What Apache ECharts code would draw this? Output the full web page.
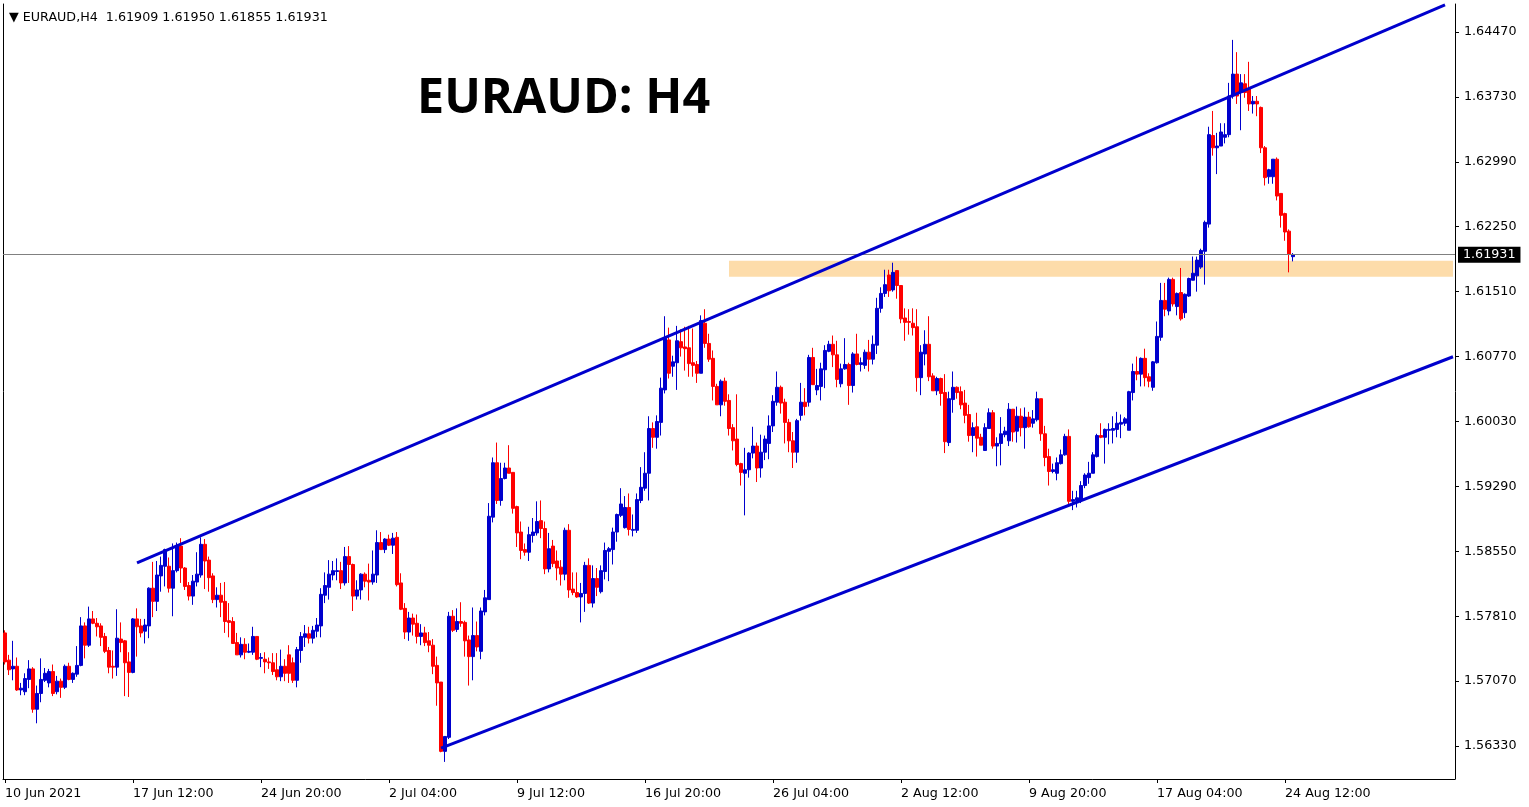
<!DOCTYPE html>
<html><head><meta charset="utf-8">
<script src="https://cdn.jsdelivr.net/npm/echarts@6/dist/echarts.min.js"></script>
<style>html,body{margin:0;padding:0;background:#fff}#c{width:1529px;height:807px}</style>
</head><body><div id="c"></div>
<script>
const symbolName = 'EURAUD';
const timeframe = 'H4';
const tickLabels = ['10 Jun 2021','17 Jun 12:00','24 Jun 20:00','2 Jul 04:00','9 Jul 12:00','16 Jul 20:00','26 Jul 04:00','2 Aug 12:00','9 Aug 20:00','17 Aug 04:00','24 Aug 12:00'];
const tickEvery = 32;
const slotCount = 363;
const priceTicks = [1.5633,1.5707,1.5781,1.5855,1.5929,1.6003,1.6077,1.6151,1.6225,1.6299,1.6373,1.6447];
const yMin = 1.55955, yMax = 1.64789;
// [open, close, low, high]
const bars = [
[1.5762,1.5729,1.5726,1.5765],[1.5731,1.5720,1.5714,1.5737],[1.5721,1.5724,1.5708,1.5753],[1.5724,1.5697,1.5696,1.5734],
[1.5697,1.5699,1.5691,1.5705],[1.5695,1.5710,1.5691,1.5716],[1.5709,1.5721,1.5699,1.5731],[1.5721,1.5675,1.5671,1.5723],
[1.5675,1.5693,1.5659,1.5702],[1.5693,1.5709,1.5683,1.5733],[1.5708,1.5716,1.5706,1.5722],[1.5705,1.5718,1.5700,1.5721],
[1.5718,1.5693,1.5690,1.5726],[1.5695,1.5707,1.5692,1.5713],[1.5707,1.5700,1.5688,1.5710],[1.5700,1.5724,1.5698,1.5726],
[1.5724,1.5709,1.5708,1.5728],[1.5709,1.5716,1.5705,1.5717],[1.5715,1.5725,1.5712,1.5747],[1.5725,1.5770,1.5724,1.5780],
[1.5770,1.5748,1.5733,1.5774],[1.5748,1.5778,1.5746,1.5792],[1.5778,1.5773,1.5772,1.5787],[1.5773,1.5769,1.5758,1.5779],
[1.5770,1.5757,1.5747,1.5773],[1.5758,1.5741,1.5739,1.5762],[1.5742,1.5723,1.5716,1.5746],[1.5724,1.5723,1.5710,1.5742],
[1.5723,1.5756,1.5713,1.5789],[1.5755,1.5751,1.5740,1.5774],[1.5753,1.5728,1.5690,1.5754],[1.5729,1.5717,1.5689,1.5740],
[1.5717,1.5778,1.5716,1.5779],[1.5778,1.5769,1.5735,1.5790],[1.5770,1.5762,1.5757,1.5778],[1.5764,1.5771,1.5750,1.5778],
[1.5770,1.5813,1.5756,1.5814],[1.5813,1.5798,1.5780,1.5843],[1.5798,1.5828,1.5787,1.5844],[1.5827,1.5839,1.5809,1.5849],
[1.5838,1.5857,1.5815,1.5858],[1.5838,1.5813,1.5808,1.5848],[1.5813,1.5833,1.5781,1.5864],[1.5833,1.5861,1.5831,1.5865],
[1.5861,1.5836,1.5819,1.5870],[1.5836,1.5815,1.5811,1.5837],[1.5816,1.5804,1.5799,1.5820],[1.5804,1.5821,1.5794,1.5828],
[1.5820,1.5829,1.5815,1.5854],[1.5828,1.5863,1.5825,1.5871],[1.5863,1.5844,1.5812,1.5869],[1.5845,1.5825,1.5809,1.5849],
[1.5827,1.5800,1.5796,1.5830],[1.5800,1.5805,1.5791,1.5814],[1.5805,1.5797,1.5780,1.5819],[1.5798,1.5775,1.5762,1.5820],
[1.5776,1.5774,1.5757,1.5796],[1.5775,1.5750,1.5750,1.5780],[1.5751,1.5737,1.5737,1.5762],[1.5737,1.5749,1.5734,1.5757],
[1.5749,1.5740,1.5732,1.5756],[1.5740,1.5741,1.5739,1.5750],[1.5740,1.5758,1.5737,1.5769],[1.5758,1.5732,1.5731,1.5758],
[1.5733,1.5734,1.5723,1.5739],[1.5732,1.5729,1.5716,1.5740],[1.5729,1.5728,1.5721,1.5734],[1.5728,1.5718,1.5714,1.5739],
[1.5720,1.5712,1.5708,1.5739],[1.5712,1.5724,1.5707,1.5743],[1.5724,1.5716,1.5707,1.5732],[1.5737,1.5716,1.5705,1.5748],
[1.5728,1.5708,1.5705,1.5734],[1.5708,1.5743,1.5700,1.5746],[1.5742,1.5758,1.5728,1.5763],[1.5757,1.5761,1.5746,1.5771],
[1.5761,1.5756,1.5750,1.5769],[1.5756,1.5765,1.5750,1.5770],[1.5764,1.5771,1.5757,1.5779],[1.5770,1.5806,1.5757,1.5813],
[1.5805,1.5816,1.5796,1.5831],[1.5814,1.5829,1.5800,1.5845],[1.5828,1.5833,1.5822,1.5844],[1.5832,1.5833,1.5822,1.5847],
[1.5833,1.5819,1.5812,1.5843],[1.5819,1.5849,1.5816,1.5860],[1.5849,1.5840,1.5819,1.5861],[1.5840,1.5804,1.5787,1.5841],
[1.5804,1.5811,1.5800,1.5822],[1.5811,1.5829,1.5800,1.5830],[1.5829,1.5821,1.5814,1.5831],[1.5822,1.5820,1.5799,1.5841],
[1.5820,1.5829,1.5817,1.5856],[1.5828,1.5865,1.5819,1.5879],[1.5865,1.5857,1.5857,1.5877],[1.5857,1.5869,1.5853,1.5870],
[1.5869,1.5862,1.5861,1.5874],[1.5862,1.5870,1.5852,1.5876],[1.5871,1.5817,1.5815,1.5877],[1.5819,1.5789,1.5788,1.5830],
[1.5790,1.5763,1.5755,1.5796],[1.5763,1.5779,1.5753,1.5786],[1.5779,1.5772,1.5759,1.5784],[1.5773,1.5758,1.5750,1.5783],
[1.5758,1.5762,1.5748,1.5772],[1.5762,1.5751,1.5747,1.5769],[1.5753,1.5748,1.5740,1.5763],[1.5748,1.5724,1.5715,1.5755],
[1.5725,1.5705,1.5679,1.5735],[1.5706,1.5627,1.5626,1.5706],[1.5627,1.5644,1.5615,1.5644],[1.5643,1.5781,1.5641,1.5786],
[1.5781,1.5765,1.5763,1.5788],[1.5766,1.5775,1.5763,1.5790],[1.5775,1.5773,1.5769,1.5797],[1.5774,1.5753,1.5735,1.5776],
[1.5754,1.5735,1.5702,1.5759],[1.5735,1.5759,1.5708,1.5791],[1.5759,1.5746,1.5741,1.5775],[1.5741,1.5787,1.5732,1.5791],
[1.5786,1.5802,1.5782,1.5811],[1.5800,1.5895,1.5800,1.5910],[1.5894,1.5956,1.5888,1.5962],[1.5956,1.5913,1.5909,1.5979],
[1.5913,1.5938,1.5907,1.5956],[1.5938,1.5950,1.5937,1.5956],[1.5950,1.5944,1.5944,1.5976],[1.5945,1.5904,1.5898,1.5945],
[1.5906,1.5876,1.5860,1.5907],[1.5877,1.5856,1.5846,1.5889],[1.5857,1.5854,1.5850,1.5864],[1.5854,1.5874,1.5844,1.5883],
[1.5873,1.5877,1.5865,1.5893],[1.5876,1.5889,1.5873,1.5912],[1.5890,1.5881,1.5870,1.5913],[1.5881,1.5835,1.5829,1.5889],
[1.5835,1.5858,1.5831,1.5876],[1.5861,1.5841,1.5837,1.5868],[1.5844,1.5836,1.5822,1.5856],[1.5837,1.5829,1.5816,1.5845],
[1.5829,1.5879,1.5822,1.5882],[1.5879,1.5811,1.5802,1.5886],[1.5812,1.5808,1.5805,1.5831],[1.5808,1.5803,1.5802,1.5831],
[1.5803,1.5807,1.5774,1.5819],[1.5807,1.5839,1.5786,1.5843],[1.5839,1.5796,1.5795,1.5847],[1.5796,1.5824,1.5791,1.5839],
[1.5824,1.5814,1.5804,1.5836],[1.5809,1.5833,1.5807,1.5839],[1.5832,1.5856,1.5823,1.5865],[1.5855,1.5858,1.5821,1.5860],
[1.5857,1.5877,1.5840,1.5882],[1.5877,1.5897,1.5866,1.5898],[1.5896,1.5909,1.5894,1.5927],[1.5882,1.5905,1.5881,1.5918],
[1.5905,1.5880,1.5873,1.5921],[1.5879,1.5880,1.5872,1.5897],[1.5879,1.5914,1.5876,1.5921],[1.5913,1.5928,1.5910,1.5951],
[1.5927,1.5944,1.5924,1.5968],[1.5944,1.5995,1.5913,1.6009],[1.5995,1.5985,1.5973,1.6002],[1.5985,1.6003,1.5972,1.6010],
[1.6002,1.6041,1.5987,1.6053],[1.6039,1.6098,1.6035,1.6123],[1.6096,1.6058,1.6052,1.6110],[1.6066,1.6071,1.6054,1.6078],
[1.6070,1.6095,1.6039,1.6112],[1.6094,1.6087,1.6077,1.6108],[1.6088,1.6086,1.6061,1.6111],[1.6087,1.6069,1.6054,1.6112],
[1.6070,1.6067,1.6054,1.6109],[1.6068,1.6058,1.6047,1.6072],[1.6058,1.6118,1.6058,1.6124],[1.6115,1.6092,1.6087,1.6131],
[1.6092,1.6074,1.6071,1.6103],[1.6075,1.6043,1.6027,1.6084],[1.6043,1.6022,1.6022,1.6046],[1.6022,1.6049,1.6009,1.6051],
[1.6049,1.6026,1.6021,1.6053],[1.6027,1.5995,1.5987,1.6034],[1.5996,1.5981,1.5970,1.6000],[1.5983,1.5954,1.5952,1.6034],
[1.5955,1.5945,1.5930,1.5956],[1.5944,1.5948,1.5896,1.5973],[1.5948,1.5967,1.5939,1.5968],[1.5967,1.5975,1.5961,1.5997],
[1.5975,1.5950,1.5934,1.5979],[1.5950,1.5968,1.5939,1.5988],[1.5968,1.5983,1.5959,1.5987],[1.5978,1.5998,1.5960,1.6010],
[1.5998,1.6026,1.5991,1.6033],[1.6025,1.6042,1.6021,1.6060],[1.6042,1.6024,1.6012,1.6044],[1.6025,1.6002,1.5978,1.6029],
[1.6002,1.5981,1.5968,1.6006],[1.5981,1.5968,1.5950,1.5991],[1.5968,1.6004,1.5956,1.6006],[1.6010,1.6025,1.6004,1.6047],
[1.6025,1.6020,1.6010,1.6041],[1.6025,1.6076,1.6020,1.6079],[1.6076,1.6045,1.6045,1.6087],[1.6039,1.6044,1.6033,1.6063],
[1.6043,1.6063,1.6027,1.6070],[1.6062,1.6084,1.6041,1.6090],[1.6083,1.6091,1.6082,1.6095],[1.6091,1.6079,1.6065,1.6101],
[1.6079,1.6051,1.6042,1.6095],[1.6046,1.6063,1.6042,1.6069],[1.6063,1.6068,1.6062,1.6098],[1.6068,1.6044,1.6022,1.6070],
[1.6044,1.6080,1.6036,1.6082],[1.6080,1.6068,1.6067,1.6103],[1.6068,1.6070,1.6060,1.6076],[1.6067,1.6082,1.6063,1.6085],
[1.6082,1.6074,1.6060,1.6096],[1.6074,1.6091,1.6068,1.6101],[1.6090,1.6132,1.6080,1.6144],[1.6132,1.6149,1.6127,1.6156],
[1.6149,1.6159,1.6145,1.6176],[1.6170,1.6152,1.6145,1.6176],[1.6153,1.6173,1.6151,1.6184],[1.6175,1.6158,1.6143,1.6175],
[1.6158,1.6120,1.6115,1.6158],[1.6121,1.6116,1.6095,1.6132],[1.6117,1.6116,1.6102,1.6131],[1.6115,1.6110,1.6101,1.6132],
[1.6111,1.6053,1.6037,1.6131],[1.6053,1.6082,1.6033,1.6090],[1.6080,1.6091,1.6067,1.6107],[1.6091,1.6054,1.6049,1.6123],
[1.6055,1.6038,1.6038,1.6058],[1.6038,1.6052,1.6033,1.6054],[1.6052,1.6035,1.6021,1.6053],[1.6036,1.5980,1.5967,1.6057],
[1.5979,1.6029,1.5975,1.6037],[1.6028,1.6042,1.6013,1.6060],[1.6042,1.6036,1.6029,1.6043],[1.6037,1.6022,1.6017,1.6043],
[1.6024,1.6010,1.6001,1.6039],[1.6011,1.5987,1.5980,1.6022],[1.5987,1.5996,1.5968,1.6002],[1.5997,1.5984,1.5963,1.6013],
[1.5985,1.5976,1.5976,1.5989],[1.5970,1.5996,1.5970,1.6001],[1.5995,1.6013,1.5995,1.6018],[1.6013,1.5975,1.5972,1.6016],
[1.5975,1.5978,1.5952,1.5985],[1.5978,1.5989,1.5953,1.6008],[1.5988,1.5992,1.5985,1.5997],[1.5981,1.6017,1.5975,1.6024],
[1.6017,1.5991,1.5980,1.6017],[1.5992,1.6009,1.5979,1.6020],[1.6009,1.5996,1.5986,1.6018],[1.5996,1.6008,1.5972,1.6019],
[1.6008,1.5997,1.5996,1.6014],[1.6001,1.6006,1.5996,1.6016],[1.6005,1.6029,1.6003,1.6037],[1.6029,1.5989,1.5981,1.6029],
[1.5989,1.5962,1.5952,1.5998],[1.5963,1.5946,1.5930,1.5972],[1.5946,1.5948,1.5944,1.5955],[1.5944,1.5956,1.5936,1.5962],
[1.5955,1.5965,1.5954,1.5971],[1.5965,1.5986,1.5964,1.5989],[1.5986,1.5912,1.5907,1.5994],[1.5912,1.5914,1.5902,1.5924],
[1.5913,1.5916,1.5905,1.5924],[1.5913,1.5930,1.5910,1.5935],[1.5930,1.5942,1.5927,1.5944],[1.5939,1.5944,1.5932,1.5957],
[1.5944,1.5965,1.5944,1.5968],[1.5963,1.5987,1.5962,1.5989],[1.5987,1.5985,1.5984,1.6001],[1.5985,1.5994,1.5955,1.5995],
[1.5993,1.5994,1.5977,1.6001],[1.5993,1.5995,1.5978,1.6009],[1.5994,1.6001,1.5985,1.6014],[1.6000,1.6002,1.5984,1.6011],
[1.6001,1.6006,1.5998,1.6008],[1.5993,1.6037,1.5993,1.6038],[1.6036,1.6060,1.6027,1.6069],[1.6060,1.6057,1.6050,1.6077],
[1.6057,1.6075,1.6043,1.6076],[1.6075,1.6053,1.6043,1.6086],[1.6054,1.6049,1.6042,1.6058],[1.6042,1.6071,1.6038,1.6072],
[1.6070,1.6100,1.6069,1.6117],[1.6099,1.6141,1.6095,1.6161],[1.6141,1.6131,1.6123,1.6161],[1.6129,1.6165,1.6124,1.6167],
[1.6165,1.6137,1.6134,1.6167],[1.6134,1.6149,1.6124,1.6150],[1.6150,1.6120,1.6118,1.6178],[1.6127,1.6148,1.6121,1.6149],
[1.6146,1.6166,1.6145,1.6167],[1.6164,1.6172,1.6164,1.6191],[1.6169,1.6187,1.6151,1.6191],[1.6179,1.6198,1.6177,1.6200],
[1.6197,1.6230,1.6159,1.6232],[1.6228,1.6330,1.6224,1.6339],[1.6329,1.6315,1.6306,1.6357],[1.6315,1.6317,1.6285,1.6332],
[1.6317,1.6333,1.6317,1.6343],[1.6327,1.6330,1.6320,1.6343],[1.6330,1.6374,1.6327,1.6389],[1.6374,1.6399,1.6371,1.6438],
[1.6399,1.6374,1.6365,1.6424],[1.6378,1.6389,1.6335,1.6399],[1.6388,1.6378,1.6372,1.6399],[1.6382,1.6365,1.6357,1.6413],
[1.6365,1.6368,1.6354,1.6374],[1.6368,1.6365,1.6351,1.6374],[1.6361,1.6315,1.6309,1.6362],[1.6315,1.6281,1.6272,1.6317],
[1.6282,1.6290,1.6274,1.6291],[1.6282,1.6302,1.6274,1.6302],[1.6302,1.6260,1.6255,1.6304],[1.6263,1.6238,1.6224,1.6263],
[1.6240,1.6219,1.6209,1.6241],[1.6220,1.6194,1.6173,1.6222]
];
const lastBar = {open: 1.61909, high: 1.61950, low: 1.61855, close: 1.61931};
const zoneLow = 1.61681, zoneHigh = 1.61863, zoneStartSlot = 181;
const upperChannel = [[33, 1.58418], [360, 1.64780]];
const lowerChannel = [[109, 1.56308], [362, 1.60768]];

const categories = Array.from({length: slotCount}, (_, i) => String(i));
const seriesData = bars.concat([[lastBar.open, lastBar.close, lastBar.low, lastBar.high]]);
const fmt = v => v.toFixed(5);
const axisFont = 'DejaVu Sans';
const axisSize = 12.7;
const BLUE = '#0000cd', RED = '#ff0000';
const showTick = (i) => i % tickEvery === 0 && (i / tickEvery) < tickLabels.length;

const chart = echarts.init(document.getElementById('c'), null, {renderer: 'canvas'});
chart.setOption({
  animation: false,
  backgroundColor: '#ffffff',
  title: [
    {text: symbolName + ': ' + timeframe, left: 412, top: 70,
     textStyle: {fontFamily: 'Open Sans', fontWeight: 700, fontSize: 48.5, color: '#000'}},
    {text: '\u25BC ' + symbolName + ',' + timeframe + '  ' + [lastBar.open, lastBar.high, lastBar.low, lastBar.close].map(fmt).join(' '),
     left: 4, top: 6, textStyle: {fontFamily: axisFont, fontWeight: 400, fontSize: axisSize, color: '#000'}}
  ],
  grid: {left: 3, top: 4, right: 74, bottom: 28, containLabel: false},
  xAxis: {
    type: 'category', data: categories, boundaryGap: true,
    axisLine: {show: true, lineStyle: {color: '#000', width: 1}},
    axisTick: {show: true, alignWithLabel: true, length: 4, interval: showTick, lineStyle: {color: '#000'}},
    axisLabel: {show: true, interval: showTick, align: 'left', margin: 8,
      formatter: (v, i) => tickLabels[Math.round(i / tickEvery)] || '',
      fontFamily: axisFont, fontSize: axisSize, color: '#000'},
    splitLine: {show: false}
  },
  yAxis: [
    {type: 'value', position: 'right', min: yMin, max: yMax,
     axisLine: {show: true, lineStyle: {color: '#000', width: 1}},
     axisTick: {show: true, customValues: priceTicks, length: 4, lineStyle: {color: '#000'}},
     axisLabel: {show: true, customValues: priceTicks, formatter: fmt, margin: 9,
       fontFamily: axisFont, fontSize: axisSize, color: '#000'},
     splitLine: {show: false}},
    {type: 'value', position: 'left', min: yMin, max: yMax,
     axisLine: {show: true, onZero: false, lineStyle: {color: '#000', width: 1}},
     axisTick: {show: false}, axisLabel: {show: false}, splitLine: {show: false}}
  ],
  series: [{
    type: 'candlestick',
    data: seriesData,
    barWidth: 3,
    itemStyle: {color: BLUE, color0: RED, borderColor: BLUE, borderColor0: RED, borderWidth: 1},
    markArea: {
      silent: true,
      itemStyle: {color: '#fddcaa'},
      data: [[{xAxis: String(zoneStartSlot), yAxis: zoneHigh}, {xAxis: String(slotCount - 1), yAxis: zoneLow}]]
    },
    markLine: {
      silent: true, symbol: ['none', 'none'], animation: false, precision: 5,
      data: [
        {yAxis: lastBar.close,
         lineStyle: {color: '#808080', width: 1, type: 'solid'},
         label: {show: true, position: 'end', distance: 3, formatter: fmt(lastBar.close),
           backgroundColor: '#000', color: '#fff', padding: [2, 5, 1, 5],
           fontFamily: axisFont, fontSize: axisSize}},
        [{coord: [String(upperChannel[0][0]), upperChannel[0][1]], lineStyle: {color: BLUE, width: 3, type: 'solid'}, label: {show: false}},
         {coord: [String(upperChannel[1][0]), upperChannel[1][1]]}],
        [{coord: [String(lowerChannel[0][0]), lowerChannel[0][1]], lineStyle: {color: BLUE, width: 3, type: 'solid'}, label: {show: false}},
         {coord: [String(lowerChannel[1][0]), lowerChannel[1][1]]}]
      ]
    }
  }]
});
</script>
</body></html>
